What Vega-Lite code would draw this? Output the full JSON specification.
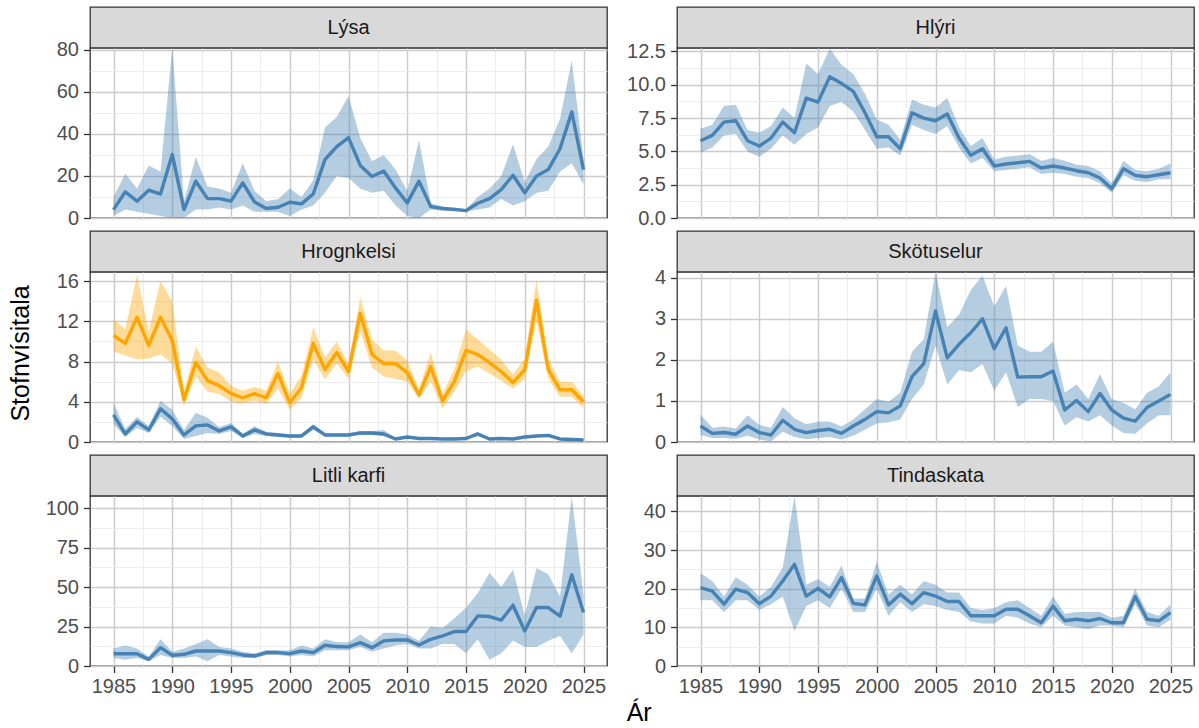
{
  "$schema": "https://vega.github.io/schema/vega-lite/v6.json",
  "padding": {"left": 7, "top": 6, "right": 6, "bottom": 1},
  "title": {"text": "Ár", "orient": "bottom", "anchor": "middle", "dx": 38, "offset": 4, "fontSize": 25, "fontWeight": "normal", "color": "#000000", "font": "Liberation Sans"},
  "datasets": {
    "lysa": [
      {"ar": 1985, "v": 4, "lo": 1, "hi": 10}, {"ar": 1986, "v": 12.4, "lo": 4, "hi": 21}, {"ar": 1987, "v": 8, "lo": 3, "hi": 14}, {"ar": 1988, "v": 13.2, "lo": 2, "hi": 25}, {"ar": 1989, "v": 11.4, "lo": 1, "hi": 22},
      {"ar": 1990, "v": 30.2, "lo": 0, "hi": 80.8}, {"ar": 1991, "v": 4, "lo": 0, "hi": 8}, {"ar": 1992, "v": 17.5, "lo": 4, "hi": 29}, {"ar": 1993, "v": 9.2, "lo": 4, "hi": 15}, {"ar": 1994, "v": 9.2, "lo": 5, "hi": 14},
      {"ar": 1995, "v": 8, "lo": 4, "hi": 12}, {"ar": 1996, "v": 16.7, "lo": 6, "hi": 26}, {"ar": 1997, "v": 7.6, "lo": 3, "hi": 13}, {"ar": 1998, "v": 4.5, "lo": 3, "hi": 8}, {"ar": 1999, "v": 5.1, "lo": 3, "hi": 9},
      {"ar": 2000, "v": 7.5, "lo": 1, "hi": 14}, {"ar": 2001, "v": 6.7, "lo": 4, "hi": 10}, {"ar": 2002, "v": 11.4, "lo": 6, "hi": 18}, {"ar": 2003, "v": 27.8, "lo": 12, "hi": 43}, {"ar": 2004, "v": 33.9, "lo": 20, "hi": 48},
      {"ar": 2005, "v": 38.2, "lo": 19, "hi": 58}, {"ar": 2006, "v": 25, "lo": 14, "hi": 38}, {"ar": 2007, "v": 19.7, "lo": 12, "hi": 27}, {"ar": 2008, "v": 22.3, "lo": 13, "hi": 30}, {"ar": 2009, "v": 14.3, "lo": 6, "hi": 23},
      {"ar": 2010, "v": 7.2, "lo": 1, "hi": 13}, {"ar": 2011, "v": 17.5, "lo": 0, "hi": 37}, {"ar": 2012, "v": 5.4, "lo": 4, "hi": 7}, {"ar": 2013, "v": 4.5, "lo": 3.5, "hi": 5.5}, {"ar": 2014, "v": 4.1, "lo": 3.2, "hi": 5},
      {"ar": 2015, "v": 3.5, "lo": 3, "hi": 4.2}, {"ar": 2016, "v": 7, "lo": 4, "hi": 10}, {"ar": 2017, "v": 9.2, "lo": 5, "hi": 14}, {"ar": 2018, "v": 13.5, "lo": 9, "hi": 20}, {"ar": 2019, "v": 20.3, "lo": 6, "hi": 35},
      {"ar": 2020, "v": 12, "lo": 8, "hi": 17}, {"ar": 2021, "v": 19.9, "lo": 12, "hi": 28}, {"ar": 2022, "v": 23, "lo": 13, "hi": 34}, {"ar": 2023, "v": 32.9, "lo": 22, "hi": 47}, {"ar": 2024, "v": 50.4, "lo": 26, "hi": 75},
      {"ar": 2025, "v": 23, "lo": 16, "hi": 28}
    ],
    "hlyri": [
      {"ar": 1985, "v": 5.8, "lo": 4.9, "hi": 6.7}, {"ar": 1986, "v": 6.2, "lo": 5.3, "hi": 7.0}, {"ar": 1987, "v": 7.2, "lo": 6.2, "hi": 8.4}, {"ar": 1988, "v": 7.3, "lo": 6.3, "hi": 8.5}, {"ar": 1989, "v": 5.8, "lo": 5.0, "hi": 6.6},
      {"ar": 1990, "v": 5.4, "lo": 4.6, "hi": 6.4}, {"ar": 1991, "v": 6.0, "lo": 5.2, "hi": 6.9}, {"ar": 1992, "v": 7.2, "lo": 6.2, "hi": 8.3}, {"ar": 1993, "v": 6.4, "lo": 5.5, "hi": 7.5}, {"ar": 1994, "v": 9.0, "lo": 6.3, "hi": 11.6},
      {"ar": 1995, "v": 8.7, "lo": 6.8, "hi": 10.8}, {"ar": 1996, "v": 10.6, "lo": 8.4, "hi": 12.7}, {"ar": 1997, "v": 10.1, "lo": 8.7, "hi": 11.5}, {"ar": 1998, "v": 9.5, "lo": 8.0, "hi": 10.8}, {"ar": 1999, "v": 7.9, "lo": 6.6, "hi": 9.3},
      {"ar": 2000, "v": 6.1, "lo": 5.2, "hi": 7.4}, {"ar": 2001, "v": 6.1, "lo": 5.3, "hi": 7.0}, {"ar": 2002, "v": 5.2, "lo": 4.7, "hi": 5.9}, {"ar": 2003, "v": 7.9, "lo": 7.0, "hi": 8.9}, {"ar": 2004, "v": 7.5, "lo": 6.6, "hi": 8.5},
      {"ar": 2005, "v": 7.3, "lo": 6.3, "hi": 8.3}, {"ar": 2006, "v": 7.8, "lo": 6.9, "hi": 9.0}, {"ar": 2007, "v": 6.0, "lo": 5.3, "hi": 6.8}, {"ar": 2008, "v": 4.7, "lo": 4.1, "hi": 5.4}, {"ar": 2009, "v": 5.2, "lo": 4.5, "hi": 6.0},
      {"ar": 2010, "v": 3.9, "lo": 3.5, "hi": 4.4}, {"ar": 2011, "v": 4.05, "lo": 3.6, "hi": 4.6}, {"ar": 2012, "v": 4.15, "lo": 3.7, "hi": 4.7}, {"ar": 2013, "v": 4.25, "lo": 3.8, "hi": 4.8}, {"ar": 2014, "v": 3.75, "lo": 3.3, "hi": 4.3},
      {"ar": 2015, "v": 3.9, "lo": 3.4, "hi": 4.5}, {"ar": 2016, "v": 3.75, "lo": 3.3, "hi": 4.3}, {"ar": 2017, "v": 3.55, "lo": 3.1, "hi": 4.0}, {"ar": 2018, "v": 3.4, "lo": 3.0, "hi": 3.9}, {"ar": 2019, "v": 3.0, "lo": 2.6, "hi": 3.5},
      {"ar": 2020, "v": 2.2, "lo": 1.9, "hi": 2.6}, {"ar": 2021, "v": 3.7, "lo": 3.2, "hi": 4.3}, {"ar": 2022, "v": 3.2, "lo": 2.8, "hi": 3.6}, {"ar": 2023, "v": 3.1, "lo": 2.7, "hi": 3.5}, {"ar": 2024, "v": 3.25, "lo": 2.9, "hi": 3.7},
      {"ar": 2025, "v": 3.4, "lo": 2.9, "hi": 4.1}
    ],
    "hrognkelsi": [
      {"h": "a", "ar": 1985, "v": 2.7, "lo": 1.8, "hi": 3.9}, {"h": "a", "ar": 1986, "v": 0.8, "lo": 0.5, "hi": 1.3}, {"h": "a", "ar": 1987, "v": 2.0, "lo": 1.4, "hi": 2.5}, {"h": "a", "ar": 1988, "v": 1.2, "lo": 0.9, "hi": 1.6}, {"h": "a", "ar": 1989, "v": 3.3, "lo": 2.5, "hi": 4.1},
      {"h": "a", "ar": 1990, "v": 2.3, "lo": 1.6, "hi": 3.2}, {"h": "a", "ar": 1991, "v": 0.7, "lo": 0.3, "hi": 1.2}, {"h": "a", "ar": 1992, "v": 1.6, "lo": 0.6, "hi": 2.9}, {"h": "a", "ar": 1993, "v": 1.7, "lo": 0.9, "hi": 2.4}, {"h": "a", "ar": 1994, "v": 1.1, "lo": 0.8, "hi": 1.5},
      {"h": "a", "ar": 1995, "v": 1.5, "lo": 1.1, "hi": 1.9}, {"h": "a", "ar": 1996, "v": 0.6, "lo": 0.4, "hi": 0.8}, {"h": "a", "ar": 1997, "v": 1.2, "lo": 0.8, "hi": 1.6}, {"h": "a", "ar": 1998, "v": 0.8, "lo": 0.6, "hi": 1.0}, {"h": "a", "ar": 1999, "v": 0.7, "lo": 0.5, "hi": 0.9},
      {"h": "a", "ar": 2000, "v": 0.6, "lo": 0.45, "hi": 0.75}, {"h": "a", "ar": 2001, "v": 0.6, "lo": 0.45, "hi": 0.75}, {"h": "a", "ar": 2002, "v": 1.5, "lo": 1.2, "hi": 1.8}, {"h": "a", "ar": 2003, "v": 0.7, "lo": 0.55, "hi": 0.85}, {"h": "a", "ar": 2004, "v": 0.7, "lo": 0.55, "hi": 0.85},
      {"h": "a", "ar": 2005, "v": 0.7, "lo": 0.55, "hi": 0.85}, {"h": "a", "ar": 2006, "v": 0.9, "lo": 0.7, "hi": 1.1}, {"h": "a", "ar": 2007, "v": 0.9, "lo": 0.7, "hi": 1.1}, {"h": "a", "ar": 2008, "v": 0.8, "lo": 0.6, "hi": 1.2}, {"h": "a", "ar": 2009, "v": 0.3, "lo": 0.2, "hi": 0.4},
      {"h": "a", "ar": 2010, "v": 0.5, "lo": 0.4, "hi": 0.6}, {"h": "a", "ar": 2011, "v": 0.35, "lo": 0.25, "hi": 0.45}, {"h": "a", "ar": 2012, "v": 0.35, "lo": 0.25, "hi": 0.45}, {"h": "a", "ar": 2013, "v": 0.3, "lo": 0.2, "hi": 0.4}, {"h": "a", "ar": 2014, "v": 0.3, "lo": 0.2, "hi": 0.4},
      {"h": "a", "ar": 2015, "v": 0.35, "lo": 0.25, "hi": 0.45}, {"h": "a", "ar": 2016, "v": 0.8, "lo": 0.6, "hi": 1.0}, {"h": "a", "ar": 2017, "v": 0.3, "lo": 0.2, "hi": 0.4}, {"h": "a", "ar": 2018, "v": 0.35, "lo": 0.25, "hi": 0.45}, {"h": "a", "ar": 2019, "v": 0.3, "lo": 0.2, "hi": 0.4},
      {"h": "a", "ar": 2020, "v": 0.5, "lo": 0.4, "hi": 0.6}, {"h": "a", "ar": 2021, "v": 0.6, "lo": 0.5, "hi": 0.75}, {"h": "a", "ar": 2022, "v": 0.65, "lo": 0.5, "hi": 0.8}, {"h": "a", "ar": 2023, "v": 0.3, "lo": 0.2, "hi": 0.4}, {"h": "a", "ar": 2024, "v": 0.25, "lo": 0.18, "hi": 0.32},
      {"h": "a", "ar": 2025, "v": 0.2, "lo": 0.14, "hi": 0.28},
      {"h": "b", "ar": 1985, "v": 10.6, "lo": 9.0, "hi": 12.2}, {"h": "b", "ar": 1986, "v": 9.8, "lo": 8.6, "hi": 11.2}, {"h": "b", "ar": 1987, "v": 12.4, "lo": 8.2, "hi": 16.6}, {"h": "b", "ar": 1988, "v": 9.6, "lo": 8.3, "hi": 11.0}, {"h": "b", "ar": 1989, "v": 12.4, "lo": 8.7, "hi": 16.0},
      {"h": "b", "ar": 1990, "v": 10.1, "lo": 7.8, "hi": 14.0}, {"h": "b", "ar": 1991, "v": 4.2, "lo": 3.6, "hi": 5.0}, {"h": "b", "ar": 1992, "v": 7.9, "lo": 6.5, "hi": 9.5}, {"h": "b", "ar": 1993, "v": 6.1, "lo": 5.0, "hi": 7.4}, {"h": "b", "ar": 1994, "v": 5.6, "lo": 4.8, "hi": 6.9},
      {"h": "b", "ar": 1995, "v": 4.8, "lo": 4.0, "hi": 5.6}, {"h": "b", "ar": 1996, "v": 4.4, "lo": 3.8, "hi": 5.1}, {"h": "b", "ar": 1997, "v": 4.8, "lo": 4.1, "hi": 5.5}, {"h": "b", "ar": 1998, "v": 4.4, "lo": 3.8, "hi": 5.1}, {"h": "b", "ar": 1999, "v": 6.8, "lo": 5.3, "hi": 8.0},
      {"h": "b", "ar": 2000, "v": 3.9, "lo": 3.2, "hi": 4.8}, {"h": "b", "ar": 2001, "v": 5.4, "lo": 4.4, "hi": 6.6}, {"h": "b", "ar": 2002, "v": 9.8, "lo": 8.2, "hi": 11.4}, {"h": "b", "ar": 2003, "v": 7.2, "lo": 6.2, "hi": 8.4}, {"h": "b", "ar": 2004, "v": 8.9, "lo": 7.8, "hi": 10.0},
      {"h": "b", "ar": 2005, "v": 7.0, "lo": 6.3, "hi": 7.8}, {"h": "b", "ar": 2006, "v": 12.8, "lo": 11.0, "hi": 14.4}, {"h": "b", "ar": 2007, "v": 8.7, "lo": 7.4, "hi": 10.2}, {"h": "b", "ar": 2008, "v": 7.8, "lo": 6.5, "hi": 9.1}, {"h": "b", "ar": 2009, "v": 7.8, "lo": 6.3, "hi": 9.1},
      {"h": "b", "ar": 2010, "v": 6.9, "lo": 6.0, "hi": 8.1}, {"h": "b", "ar": 2011, "v": 4.7, "lo": 4.3, "hi": 5.3}, {"h": "b", "ar": 2012, "v": 7.5, "lo": 6.0, "hi": 8.9}, {"h": "b", "ar": 2013, "v": 4.1, "lo": 3.3, "hi": 4.8}, {"h": "b", "ar": 2014, "v": 6.0, "lo": 5.0, "hi": 7.2},
      {"h": "b", "ar": 2015, "v": 9.1, "lo": 7.0, "hi": 11.2}, {"h": "b", "ar": 2016, "v": 8.7, "lo": 7.5, "hi": 10.2}, {"h": "b", "ar": 2017, "v": 7.9, "lo": 6.8, "hi": 9.2}, {"h": "b", "ar": 2018, "v": 7.0, "lo": 6.1, "hi": 8.2}, {"h": "b", "ar": 2019, "v": 5.9, "lo": 5.3, "hi": 6.7},
      {"h": "b", "ar": 2020, "v": 7.2, "lo": 6.3, "hi": 8.3}, {"h": "b", "ar": 2021, "v": 14.1, "lo": 12.0, "hi": 16.1}, {"h": "b", "ar": 2022, "v": 7.2, "lo": 6.3, "hi": 8.3}, {"h": "b", "ar": 2023, "v": 5.2, "lo": 4.5, "hi": 6.0}, {"h": "b", "ar": 2024, "v": 5.2, "lo": 4.5, "hi": 6.0},
      {"h": "b", "ar": 2025, "v": 4.0, "lo": 3.4, "hi": 4.6}
    ],
    "skotuselur": [
      {"ar": 1985, "v": 0.39, "lo": 0.17, "hi": 0.67}, {"ar": 1986, "v": 0.21, "lo": 0.1, "hi": 0.35}, {"ar": 1987, "v": 0.23, "lo": 0.1, "hi": 0.38}, {"ar": 1988, "v": 0.19, "lo": 0.08, "hi": 0.33}, {"ar": 1989, "v": 0.39, "lo": 0.15, "hi": 0.65},
      {"ar": 1990, "v": 0.23, "lo": 0.06, "hi": 0.42}, {"ar": 1991, "v": 0.17, "lo": 0.02, "hi": 0.35}, {"ar": 1992, "v": 0.53, "lo": 0.25, "hi": 0.85}, {"ar": 1993, "v": 0.31, "lo": 0.12, "hi": 0.58}, {"ar": 1994, "v": 0.23, "lo": 0.07, "hi": 0.43},
      {"ar": 1995, "v": 0.28, "lo": 0.1, "hi": 0.5}, {"ar": 1996, "v": 0.31, "lo": 0.12, "hi": 0.5}, {"ar": 1997, "v": 0.21, "lo": 0.06, "hi": 0.38}, {"ar": 1998, "v": 0.39, "lo": 0.15, "hi": 0.55}, {"ar": 1999, "v": 0.55, "lo": 0.3, "hi": 0.8},
      {"ar": 2000, "v": 0.74, "lo": 0.45, "hi": 1.05}, {"ar": 2001, "v": 0.71, "lo": 0.48, "hi": 0.98}, {"ar": 2002, "v": 0.88, "lo": 0.55, "hi": 1.2}, {"ar": 2003, "v": 1.59, "lo": 1.05, "hi": 2.2}, {"ar": 2004, "v": 1.91, "lo": 1.4, "hi": 2.5},
      {"ar": 2005, "v": 3.19, "lo": 2.35, "hi": 4.14}, {"ar": 2006, "v": 2.05, "lo": 1.4, "hi": 2.8}, {"ar": 2007, "v": 2.38, "lo": 1.75, "hi": 3.1}, {"ar": 2008, "v": 2.66, "lo": 1.7, "hi": 3.7}, {"ar": 2009, "v": 3.0, "lo": 1.9, "hi": 4.05},
      {"ar": 2010, "v": 2.27, "lo": 1.25, "hi": 3.3}, {"ar": 2011, "v": 2.78, "lo": 1.7, "hi": 3.8}, {"ar": 2012, "v": 1.58, "lo": 0.85, "hi": 2.35}, {"ar": 2013, "v": 1.59, "lo": 1.05, "hi": 2.2}, {"ar": 2014, "v": 1.59, "lo": 1.05, "hi": 2.2},
      {"ar": 2015, "v": 1.73, "lo": 1.0, "hi": 2.45}, {"ar": 2016, "v": 0.78, "lo": 0.4, "hi": 1.2}, {"ar": 2017, "v": 1.01, "lo": 0.6, "hi": 1.4}, {"ar": 2018, "v": 0.74, "lo": 0.5, "hi": 1.05}, {"ar": 2019, "v": 1.18, "lo": 0.65, "hi": 1.65},
      {"ar": 2020, "v": 0.78, "lo": 0.4, "hi": 1.05}, {"ar": 2021, "v": 0.58, "lo": 0.22, "hi": 0.95}, {"ar": 2022, "v": 0.51, "lo": 0.2, "hi": 0.8}, {"ar": 2023, "v": 0.84, "lo": 0.45, "hi": 1.2}, {"ar": 2024, "v": 1.0, "lo": 0.65, "hi": 1.35},
      {"ar": 2025, "v": 1.16, "lo": 0.65, "hi": 1.7}
    ],
    "litlikarfi": [
      {"ar": 1985, "v": 7.8, "lo": 5, "hi": 11}, {"ar": 1986, "v": 7.8, "lo": 4, "hi": 13}, {"ar": 1987, "v": 7.8, "lo": 5, "hi": 11}, {"ar": 1988, "v": 4.2, "lo": 3, "hi": 6}, {"ar": 1989, "v": 11.6, "lo": 7, "hi": 17},
      {"ar": 1990, "v": 6.8, "lo": 5, "hi": 9}, {"ar": 1991, "v": 7.4, "lo": 5, "hi": 11}, {"ar": 1992, "v": 9.5, "lo": 6, "hi": 14}, {"ar": 1993, "v": 9.5, "lo": 3, "hi": 17}, {"ar": 1994, "v": 9.5, "lo": 7, "hi": 12},
      {"ar": 1995, "v": 8.5, "lo": 6, "hi": 11}, {"ar": 1996, "v": 7.0, "lo": 5, "hi": 9}, {"ar": 1997, "v": 6.3, "lo": 5, "hi": 8}, {"ar": 1998, "v": 8.5, "lo": 7, "hi": 10}, {"ar": 1999, "v": 8.5, "lo": 7, "hi": 10},
      {"ar": 2000, "v": 7.8, "lo": 6, "hi": 10}, {"ar": 2001, "v": 9.5, "lo": 7, "hi": 13}, {"ar": 2002, "v": 8.5, "lo": 6, "hi": 11}, {"ar": 2003, "v": 13.1, "lo": 10, "hi": 17}, {"ar": 2004, "v": 12.3, "lo": 10, "hi": 15},
      {"ar": 2005, "v": 12.1, "lo": 10, "hi": 15}, {"ar": 2006, "v": 14.8, "lo": 12, "hi": 20}, {"ar": 2007, "v": 11.6, "lo": 9, "hi": 15}, {"ar": 2008, "v": 15.9, "lo": 11, "hi": 21}, {"ar": 2009, "v": 16.5, "lo": 13, "hi": 21},
      {"ar": 2010, "v": 16.5, "lo": 14, "hi": 20}, {"ar": 2011, "v": 13.3, "lo": 11, "hi": 16}, {"ar": 2012, "v": 16.9, "lo": 11, "hi": 25}, {"ar": 2013, "v": 19.0, "lo": 14, "hi": 24}, {"ar": 2014, "v": 21.8, "lo": 14, "hi": 30},
      {"ar": 2015, "v": 21.8, "lo": 8, "hi": 37}, {"ar": 2016, "v": 31.7, "lo": 17, "hi": 46}, {"ar": 2017, "v": 31.3, "lo": 4, "hi": 59}, {"ar": 2018, "v": 29, "lo": 8, "hi": 50}, {"ar": 2019, "v": 38.5, "lo": 16, "hi": 61},
      {"ar": 2020, "v": 22.2, "lo": 12, "hi": 32}, {"ar": 2021, "v": 37.0, "lo": 12, "hi": 62}, {"ar": 2022, "v": 37.0, "lo": 16, "hi": 58}, {"ar": 2023, "v": 31.5, "lo": 19, "hi": 44}, {"ar": 2024, "v": 57.7, "lo": 8, "hi": 107.6},
      {"ar": 2025, "v": 33.8, "lo": 20, "hi": 45}
    ],
    "tindaskata": [
      {"ar": 1985, "v": 20.3, "lo": 17, "hi": 24}, {"ar": 1986, "v": 19.4, "lo": 17, "hi": 22}, {"ar": 1987, "v": 16.0, "lo": 14, "hi": 18}, {"ar": 1988, "v": 19.9, "lo": 17, "hi": 23}, {"ar": 1989, "v": 19.0, "lo": 17, "hi": 21},
      {"ar": 1990, "v": 16.1, "lo": 14.5, "hi": 18}, {"ar": 1991, "v": 18.1, "lo": 16, "hi": 20.5}, {"ar": 1992, "v": 22.0, "lo": 18, "hi": 25.5}, {"ar": 1993, "v": 26.3, "lo": 9, "hi": 44}, {"ar": 1994, "v": 18.1, "lo": 15.5, "hi": 21},
      {"ar": 1995, "v": 20.1, "lo": 17, "hi": 22.5}, {"ar": 1996, "v": 17.9, "lo": 15, "hi": 20.5}, {"ar": 1997, "v": 22.9, "lo": 20, "hi": 26}, {"ar": 1998, "v": 16.2, "lo": 14, "hi": 17.5}, {"ar": 1999, "v": 15.8, "lo": 14, "hi": 17.5},
      {"ar": 2000, "v": 23.3, "lo": 20, "hi": 27}, {"ar": 2001, "v": 15.8, "lo": 13, "hi": 18.5}, {"ar": 2002, "v": 18.6, "lo": 16.5, "hi": 21}, {"ar": 2003, "v": 16.1, "lo": 14, "hi": 18.5}, {"ar": 2004, "v": 19.0, "lo": 16, "hi": 22},
      {"ar": 2005, "v": 18.1, "lo": 15.5, "hi": 21}, {"ar": 2006, "v": 16.7, "lo": 14.5, "hi": 19}, {"ar": 2007, "v": 16.7, "lo": 14, "hi": 19}, {"ar": 2008, "v": 13.0, "lo": 11.5, "hi": 15}, {"ar": 2009, "v": 13.0, "lo": 11, "hi": 14.5},
      {"ar": 2010, "v": 13.0, "lo": 11, "hi": 15}, {"ar": 2011, "v": 14.7, "lo": 13, "hi": 16.5}, {"ar": 2012, "v": 14.7, "lo": 12.5, "hi": 17}, {"ar": 2013, "v": 13.0, "lo": 11, "hi": 15}, {"ar": 2014, "v": 11.2, "lo": 10, "hi": 13},
      {"ar": 2015, "v": 15.5, "lo": 13, "hi": 18}, {"ar": 2016, "v": 11.7, "lo": 10.5, "hi": 13.5}, {"ar": 2017, "v": 12.1, "lo": 10, "hi": 14}, {"ar": 2018, "v": 11.7, "lo": 9.5, "hi": 14}, {"ar": 2019, "v": 12.3, "lo": 10.5, "hi": 14},
      {"ar": 2020, "v": 11.2, "lo": 10.5, "hi": 12.5}, {"ar": 2021, "v": 11.2, "lo": 10, "hi": 13}, {"ar": 2022, "v": 18.0, "lo": 16, "hi": 20}, {"ar": 2023, "v": 12.1, "lo": 10.5, "hi": 14}, {"ar": 2024, "v": 11.7, "lo": 10, "hi": 13},
      {"ar": 2025, "v": 13.8, "lo": 12, "hi": 16}
    ]
  },
  "spacing": 17,
  "hconcat": [
    {
      "spacing": 1,
      "vconcat": [
        {
          "spacing": 0, "bounds": "flush",
          "vconcat": [
            {"width": 517, "height": 41, "view": {"fill": "#D9D9D9", "stroke": "#333333", "strokeWidth": 1.3}, "data": {"values": [{"p": "Lýsa"}]}, "mark": {"type": "text", "fontSize": 20, "color": "#1A1A1A"}, "encoding": {"text": {"field": "p"}}},
            {
              "width": 517, "height": 170, "data": {"name": "lysa"},
              "encoding": {
                "x": {"field": "ar", "type": "quantitative", "scale": {"domain": [1983, 2027], "nice": false, "zero": false}, "axis": {"values": [1985, 1987.5, 1990, 1992.5, 1995, 1997.5, 2000, 2002.5, 2005, 2007.5, 2010, 2012.5, 2015, 2017.5, 2020, 2022.5, 2025], "labels": false, "ticks": false, "title": null, "gridColor": {"condition": {"test": "datum.value % 5 === 0", "value": "#CCCCCC"}, "value": "#E9E9E9"}, "gridWidth": {"condition": {"test": "datum.value % 5 === 0", "value": 1.5}, "value": 0.8}}},
                "y": {"field": "v", "type": "quantitative", "scale": {"domain": [0, 80.8], "nice": false, "zero": false}, "axis": {"values": [0, 10, 20, 30, 40, 50, 60, 70, 80], "title": null, "labelExpr": "datum.value % 20 === 0 ? datum.label : ''", "tickOpacity": {"condition": {"test": "datum.value % 20 === 0", "value": 1}, "value": 0}, "gridColor": {"condition": {"test": "datum.value % 20 === 0", "value": "#CCCCCC"}, "value": "#E9E9E9"}, "gridWidth": {"condition": {"test": "datum.value % 20 === 0", "value": 1.5}, "value": 0.8}}}
              },
              "layer": [
                {"mark": {"type": "area", "color": "#4682B4", "opacity": 0.4}, "encoding": {"y": {"field": "lo", "type": "quantitative", "title": null}, "y2": {"field": "hi"}}},
                {"mark": {"type": "line", "color": "#4682B4", "strokeWidth": 3.4, "strokeJoin": "round"}, "encoding": {}}
              ]
            }
          ]
        },
        {
          "spacing": 0, "bounds": "flush",
          "vconcat": [
            {"width": 517, "height": 41, "view": {"fill": "#D9D9D9", "stroke": "#333333", "strokeWidth": 1.3}, "data": {"values": [{"p": "Hrognkelsi"}]}, "mark": {"type": "text", "fontSize": 20, "color": "#1A1A1A"}, "encoding": {"text": {"field": "p"}}},
            {
              "width": 517, "height": 170, "data": {"name": "hrognkelsi"},
              "encoding": {
                "x": {"field": "ar", "type": "quantitative", "scale": {"domain": [1983, 2027], "nice": false, "zero": false}, "axis": {"values": [1985, 1987.5, 1990, 1992.5, 1995, 1997.5, 2000, 2002.5, 2005, 2007.5, 2010, 2012.5, 2015, 2017.5, 2020, 2022.5, 2025], "labels": false, "ticks": false, "title": null, "gridColor": {"condition": {"test": "datum.value % 5 === 0", "value": "#CCCCCC"}, "value": "#E9E9E9"}, "gridWidth": {"condition": {"test": "datum.value % 5 === 0", "value": 1.5}, "value": 0.8}}},
                "y": {"field": "v", "type": "quantitative", "scale": {"domain": [0, 16.9], "nice": false, "zero": false}, "axis": {"values": [0, 2, 4, 6, 8, 10, 12, 14, 16], "title": "Stofnvísitala", "titlePadding": 23, "titleY": 81, "labelExpr": "datum.value % 4 === 0 ? datum.label : ''", "tickOpacity": {"condition": {"test": "datum.value % 4 === 0", "value": 1}, "value": 0}, "gridColor": {"condition": {"test": "datum.value % 4 === 0", "value": "#CCCCCC"}, "value": "#E9E9E9"}, "gridWidth": {"condition": {"test": "datum.value % 4 === 0", "value": 1.5}, "value": 0.8}}},
                "color": {"field": "h", "type": "nominal", "scale": {"domain": ["a", "b"], "range": ["#4682B4", "#FFA500"]}, "legend": null}
              },
              "layer": [
                {"mark": {"type": "area", "opacity": 0.4}, "encoding": {"y": {"field": "lo", "type": "quantitative", "title": "Stofnvísitala"}, "y2": {"field": "hi"}}},
                {"mark": {"type": "line", "strokeWidth": 3.4, "strokeJoin": "round"}, "encoding": {}}
              ]
            }
          ]
        },
        {
          "spacing": 0, "bounds": "flush",
          "vconcat": [
            {"width": 517, "height": 41, "view": {"fill": "#D9D9D9", "stroke": "#333333", "strokeWidth": 1.3}, "data": {"values": [{"p": "Litli karfi"}]}, "mark": {"type": "text", "fontSize": 20, "color": "#1A1A1A"}, "encoding": {"text": {"field": "p"}}},
            {
              "width": 517, "height": 170, "data": {"name": "litlikarfi"},
              "encoding": {
                "x": {"field": "ar", "type": "quantitative", "scale": {"domain": [1983, 2027], "nice": false, "zero": false}, "axis": {"values": [1985, 1987.5, 1990, 1992.5, 1995, 1997.5, 2000, 2002.5, 2005, 2007.5, 2010, 2012.5, 2015, 2017.5, 2020, 2022.5, 2025], "format": "d", "title": null, "labelExpr": "datum.value % 5 === 0 ? datum.label : ''", "tickOpacity": {"condition": {"test": "datum.value % 5 === 0", "value": 1}, "value": 0}, "gridColor": {"condition": {"test": "datum.value % 5 === 0", "value": "#CCCCCC"}, "value": "#E9E9E9"}, "gridWidth": {"condition": {"test": "datum.value % 5 === 0", "value": 1.5}, "value": 0.8}}},
                "y": {"field": "v", "type": "quantitative", "scale": {"domain": [0, 107.6], "nice": false, "zero": false}, "axis": {"values": [0, 12.5, 25, 37.5, 50, 62.5, 75, 87.5, 100], "title": null, "labelExpr": "datum.value % 25 === 0 ? datum.label : ''", "tickOpacity": {"condition": {"test": "datum.value % 25 === 0", "value": 1}, "value": 0}, "gridColor": {"condition": {"test": "datum.value % 25 === 0", "value": "#CCCCCC"}, "value": "#E9E9E9"}, "gridWidth": {"condition": {"test": "datum.value % 25 === 0", "value": 1.5}, "value": 0.8}}}
              },
              "layer": [
                {"mark": {"type": "area", "color": "#4682B4", "opacity": 0.4}, "encoding": {"y": {"field": "lo", "type": "quantitative", "title": null}, "y2": {"field": "hi"}}},
                {"mark": {"type": "line", "color": "#4682B4", "strokeWidth": 3.4, "strokeJoin": "round"}, "encoding": {}}
              ]
            }
          ]
        }
      ]
    },
    {
      "spacing": 1,
      "vconcat": [
        {
          "spacing": 0, "bounds": "flush",
          "vconcat": [
            {"width": 517, "height": 41, "view": {"fill": "#D9D9D9", "stroke": "#333333", "strokeWidth": 1.3}, "data": {"values": [{"p": "Hlýri"}]}, "mark": {"type": "text", "fontSize": 20, "color": "#1A1A1A"}, "encoding": {"text": {"field": "p"}}},
            {
              "width": 517, "height": 170, "data": {"name": "hlyri"},
              "encoding": {
                "x": {"field": "ar", "type": "quantitative", "scale": {"domain": [1983, 2027], "nice": false, "zero": false}, "axis": {"values": [1985, 1987.5, 1990, 1992.5, 1995, 1997.5, 2000, 2002.5, 2005, 2007.5, 2010, 2012.5, 2015, 2017.5, 2020, 2022.5, 2025], "labels": false, "ticks": false, "title": null, "gridColor": {"condition": {"test": "datum.value % 5 === 0", "value": "#CCCCCC"}, "value": "#E9E9E9"}, "gridWidth": {"condition": {"test": "datum.value % 5 === 0", "value": 1.5}, "value": 0.8}}},
                "y": {"field": "v", "type": "quantitative", "scale": {"domain": [0, 12.76], "nice": false, "zero": false}, "axis": {"values": [0, 1.25, 2.5, 3.75, 5, 6.25, 7.5, 8.75, 10, 11.25, 12.5], "format": ".1f", "title": null, "labelExpr": "datum.value % 2.5 === 0 ? datum.label : ''", "tickOpacity": {"condition": {"test": "datum.value % 2.5 === 0", "value": 1}, "value": 0}, "gridColor": {"condition": {"test": "datum.value % 2.5 === 0", "value": "#CCCCCC"}, "value": "#E9E9E9"}, "gridWidth": {"condition": {"test": "datum.value % 2.5 === 0", "value": 1.5}, "value": 0.8}}}
              },
              "layer": [
                {"mark": {"type": "area", "color": "#4682B4", "opacity": 0.4}, "encoding": {"y": {"field": "lo", "type": "quantitative", "title": null}, "y2": {"field": "hi"}}},
                {"mark": {"type": "line", "color": "#4682B4", "strokeWidth": 3.4, "strokeJoin": "round"}, "encoding": {}}
              ]
            }
          ]
        },
        {
          "spacing": 0, "bounds": "flush",
          "vconcat": [
            {"width": 517, "height": 41, "view": {"fill": "#D9D9D9", "stroke": "#333333", "strokeWidth": 1.3}, "data": {"values": [{"p": "Skötuselur"}]}, "mark": {"type": "text", "fontSize": 20, "color": "#1A1A1A"}, "encoding": {"text": {"field": "p"}}},
            {
              "width": 517, "height": 170, "data": {"name": "skotuselur"},
              "encoding": {
                "x": {"field": "ar", "type": "quantitative", "scale": {"domain": [1983, 2027], "nice": false, "zero": false}, "axis": {"values": [1985, 1987.5, 1990, 1992.5, 1995, 1997.5, 2000, 2002.5, 2005, 2007.5, 2010, 2012.5, 2015, 2017.5, 2020, 2022.5, 2025], "labels": false, "ticks": false, "title": null, "gridColor": {"condition": {"test": "datum.value % 5 === 0", "value": "#CCCCCC"}, "value": "#E9E9E9"}, "gridWidth": {"condition": {"test": "datum.value % 5 === 0", "value": 1.5}, "value": 0.8}}},
                "y": {"field": "v", "type": "quantitative", "scale": {"domain": [0, 4.14], "nice": false, "zero": false}, "axis": {"values": [0, 0.5, 1, 1.5, 2, 2.5, 3, 3.5, 4], "format": "d", "title": null, "labelExpr": "datum.value % 1 === 0 ? datum.label : ''", "tickOpacity": {"condition": {"test": "datum.value % 1 === 0", "value": 1}, "value": 0}, "gridColor": {"condition": {"test": "datum.value % 1 === 0", "value": "#CCCCCC"}, "value": "#E9E9E9"}, "gridWidth": {"condition": {"test": "datum.value % 1 === 0", "value": 1.5}, "value": 0.8}}}
              },
              "layer": [
                {"mark": {"type": "area", "color": "#4682B4", "opacity": 0.4}, "encoding": {"y": {"field": "lo", "type": "quantitative", "title": null}, "y2": {"field": "hi"}}},
                {"mark": {"type": "line", "color": "#4682B4", "strokeWidth": 3.4, "strokeJoin": "round"}, "encoding": {}}
              ]
            }
          ]
        },
        {
          "spacing": 0, "bounds": "flush",
          "vconcat": [
            {"width": 517, "height": 41, "view": {"fill": "#D9D9D9", "stroke": "#333333", "strokeWidth": 1.3}, "data": {"values": [{"p": "Tindaskata"}]}, "mark": {"type": "text", "fontSize": 20, "color": "#1A1A1A"}, "encoding": {"text": {"field": "p"}}},
            {
              "width": 517, "height": 170, "data": {"name": "tindaskata"},
              "encoding": {
                "x": {"field": "ar", "type": "quantitative", "scale": {"domain": [1983, 2027], "nice": false, "zero": false}, "axis": {"values": [1985, 1987.5, 1990, 1992.5, 1995, 1997.5, 2000, 2002.5, 2005, 2007.5, 2010, 2012.5, 2015, 2017.5, 2020, 2022.5, 2025], "format": "d", "title": null, "labelExpr": "datum.value % 5 === 0 ? datum.label : ''", "tickOpacity": {"condition": {"test": "datum.value % 5 === 0", "value": 1}, "value": 0}, "gridColor": {"condition": {"test": "datum.value % 5 === 0", "value": "#CCCCCC"}, "value": "#E9E9E9"}, "gridWidth": {"condition": {"test": "datum.value % 5 === 0", "value": 1.5}, "value": 0.8}}},
                "y": {"field": "v", "type": "quantitative", "scale": {"domain": [0, 44], "nice": false, "zero": false}, "axis": {"values": [0, 5, 10, 15, 20, 25, 30, 35, 40], "title": null, "labelExpr": "datum.value % 10 === 0 ? datum.label : ''", "tickOpacity": {"condition": {"test": "datum.value % 10 === 0", "value": 1}, "value": 0}, "gridColor": {"condition": {"test": "datum.value % 10 === 0", "value": "#CCCCCC"}, "value": "#E9E9E9"}, "gridWidth": {"condition": {"test": "datum.value % 10 === 0", "value": 1.5}, "value": 0.8}}}
              },
              "layer": [
                {"mark": {"type": "area", "color": "#4682B4", "opacity": 0.4}, "encoding": {"y": {"field": "lo", "type": "quantitative", "title": null}, "y2": {"field": "hi"}}},
                {"mark": {"type": "line", "color": "#4682B4", "strokeWidth": 3.4, "strokeJoin": "round"}, "encoding": {}}
              ]
            }
          ]
        }
      ]
    }
  ],
  "config": {
    "font": "Liberation Sans",
    "view": {"stroke": "#333333", "strokeWidth": 1.3, "fill": "#FFFFFF"},
    "text": {"font": "Liberation Sans"},
    "axis": {"domain": false, "labelFont": "Liberation Sans", "labelFontSize": 20, "labelColor": "#4D4D4D", "labelFlush": false, "labelOverlap": false, "tickColor": "#333333", "tickWidth": 1.3, "tickSize": 6.5, "titleFont": "Liberation Sans", "titleFontSize": 25, "titleFontWeight": "normal", "titleColor": "#000000"},
    "axisY": {"labelPadding": 5},
    "axisX": {"labelPadding": 4}
  }
}
